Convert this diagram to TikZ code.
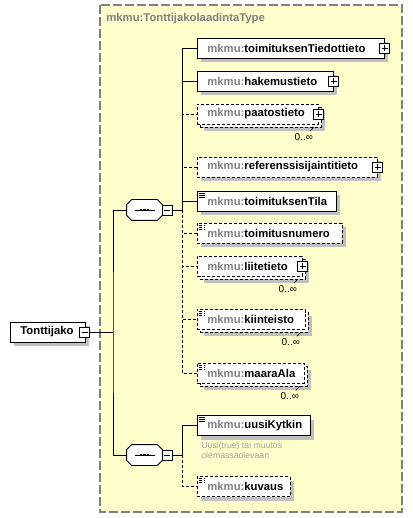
\documentclass[tikz,border=0pt]{standalone}
\usepackage{fontspec}
\setmainfont{Liberation Sans}
\usetikzlibrary{shadows}
\definecolor{typefill}{HTML}{FFFFCC}
\definecolor{typeline}{HTML}{808080}
\definecolor{shadowgrey}{HTML}{C0C0C0}
\definecolor{mkgrey}{HTML}{808080}
\definecolor{docgrey}{HTML}{A0A0A0}
\newcommand{\mk}[1]{\mbox{\textcolor{mkgrey}{mkmu:}#1}}
\tikzset{
  optline/.style={dash pattern=on 3pt off 2pt},
  elshadow/.style={general shadow={shadow xshift=4pt,shadow yshift=-4pt,fill=shadowgrey}},
  elem/.style={draw,fill=white,anchor=west,minimum height=20pt,inner xsep=10pt,inner ysep=0pt,
    text width=#1,align=left,font=\fontsize{11.3}{13}\selectfont\bfseries,elshadow},
  optelem/.style={elem=#1,optline},
  multelem/.style={elem=#1,optline,
    general shadow={shadow xshift=7pt,shadow yshift=-7pt,fill=shadowgrey},
    general shadow={shadow xshift=3pt,shadow yshift=-3pt,fill=white,draw,optline}},
  simple/.style={path picture={\foreach \k in {2,4,6}
    \draw[line width=0.7pt] ([xshift=2pt,yshift=-\k pt]path picture bounding box.north west) -- ++(6pt,0pt);}},
  signbox/.style={draw,fill=white,minimum size=10pt,inner sep=0pt,line width=0.7pt},
  plusbox/.style={signbox,path picture={
    \draw ([xshift=2pt]path picture bounding box.west) -- ([xshift=-2pt]path picture bounding box.east)
      ([yshift=-2pt]path picture bounding box.north) -- ([yshift=2pt]path picture bounding box.south);}},
  minusbox/.style={signbox,path picture={
    \draw ([xshift=2pt]path picture bounding box.west) -- ([xshift=-2pt]path picture bounding box.east);}},
  seqbox/.style={minimum width=35pt,minimum height=20pt,inner sep=0pt},
  mult/.style={font=\fontsize{10}{11}\selectfont,inner sep=0pt},
  doc/.style={anchor=north west,align=left,inner sep=0pt,text=docgrey,font=\fontsize{8.7}{10}\selectfont},
  typetitle/.style={anchor=west,inner sep=0pt,text=mkgrey,font=\fontsize{11.3}{13}\selectfont\bfseries},
}
\begin{document}
\begin{tikzpicture}[x=1pt,y=-1pt,line width=0.8pt]
  \useasboundingbox (0,0) rectangle (412,518);
  \draw[typeline,fill=typefill,line width=1.2pt,dash pattern=on 9pt off 3pt] (100,5) rectangle (402,512);
  \node[typetitle] (typename) at (106,19) {mkmu:TonttijakolaadintaType};

  \node[elem=55] (root) at (10,332) {Tonttijako};
  \node[minusbox] (rootsign) at ([xshift=-1pt]root.east) {};

  \node[seqbox] (seqa) at (144.5,210) {};
  \node[seqbox] (seqb) at (144.5,455) {};
  \foreach \s in {seqa,seqb}{
    \foreach \sh/\col/\ln in {4/shadowgrey/shadowgrey,0/white/black}
      \filldraw[fill=\col,draw=\ln,xshift=\sh pt,yshift=-\sh pt]
        ([xshift=5pt]\s.north west) -- ([xshift=-5pt]\s.north east) -- ([yshift=-5pt]\s.north east)
        -- ([yshift=5pt]\s.south east) -- ([xshift=-5pt]\s.south east) -- ([xshift=5pt]\s.south west)
        -- ([yshift=5pt]\s.south west) -- ([yshift=-5pt]\s.north west) -- cycle;
    \draw ([xshift=-10pt]\s.center) -- ([xshift=10pt]\s.center);
    \foreach \d in {-4.75,-1.25,2.25}
      \fill ([xshift=\d pt,yshift=-1.25pt]\s.center) rectangle ++(2.5pt,2.5pt);
  }
  \node[minusbox] (seqasign) at ([xshift=5pt]seqa.east) {};
  \node[minusbox] (seqbsign) at ([xshift=5pt]seqb.east) {};

  \coordinate (rootfork) at (113,332);
  \coordinate (seqafork) at (182,210);
  \coordinate (seqbfork) at (182,455);

  \node[elem=167] (tiedot) at (197,48) {\mk{toimituksenTiedottieto}};
  \node[plusbox] (tiedotsign) at (tiedot.east) {};
  \node[elem=116] (hakemus) at (197,81) {\mk{hakemustieto}};
  \node[plusbox] (hakemussign) at (hakemus.east) {};
  \node[multelem=101] (paatos) at (197,114) {\mk{paatostieto}};
  \node[plusbox] (paatossign) at (paatos.east) {};
  \node[optelem=160] (referenssi) at (197,167) {\mk{referenssisijaintitieto}};
  \node[plusbox] (referenssisign) at (referenssi.east) {};
  \node[elem=119,simple] (tila) at (197,201) {\mk{toimituksenTila}};
  \node[optelem=125,simple] (numero) at (197,233) {\mk{toimitusnumero}};
  \node[multelem=85] (liite) at (197,266) {\mk{liitetieto}};
  \node[plusbox] (liitesign) at (liite.east) {};
  \node[multelem=88,simple] (kiint) at (197,319) {\mk{kiinteisto}};
  \node[multelem=87,simple] (maara) at (197,373) {\mk{maaraAla}};
  \node[elem=93,simple] (uusi) at (197,425.5) {\mk{uusiKytkin}};
  \node[doc] (uusidoc) at (201,442) {Uusi(true) tai muutos\\olemassaolevaan};
  \node[optelem=73,simple] (kuvaus) at (197,486.5) {\mk{kuvaus}};

  \foreach \m in {paatos,liite,kiint,maara}{
    \draw[line width=0.7pt] ([xshift=-5pt,yshift=-3pt]\m.south east) -- ([xshift=-9pt,yshift=-7pt]\m.south east);
    \node[mult] (\m mult) at ([xshift=-15pt,yshift=-13pt]\m.south east) {0..∞};
  }

  \draw (rootsign.east) -- (rootfork);
  \draw (seqa.west) -| (rootfork) |- (seqb.west);
  \draw (seqasign.east) -- (seqafork);
  \draw (seqafork) |- (tiedot.west);
  \draw (seqafork) |- (hakemus.west);
  \draw (seqafork) |- (tila.west);
  \foreach \o in {paatos,referenssi,numero,liite,kiint,maara}
    \draw[optline] (seqafork) |- (\o.west);
  \draw (seqbsign.east) -- (seqbfork);
  \draw (seqbfork) |- (uusi.west);
  \draw[optline] (seqbfork) |- (kuvaus.west);
\end{tikzpicture}
\end{document}
